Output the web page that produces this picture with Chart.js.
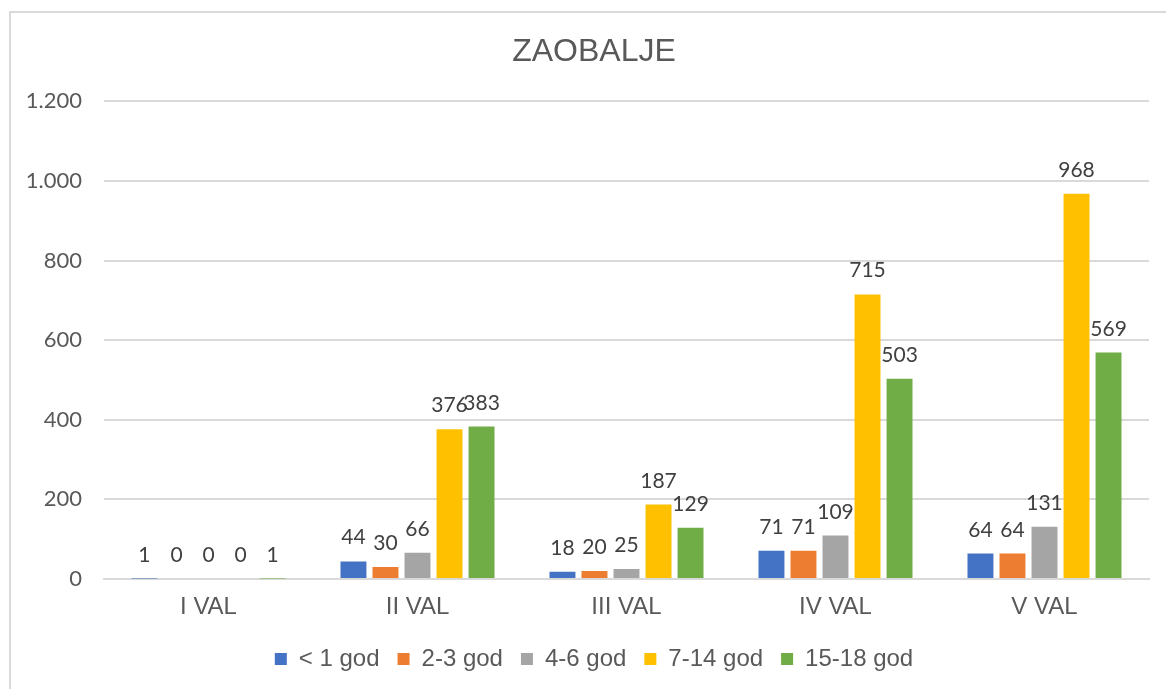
<!DOCTYPE html>
<html>
<head>
<meta charset="utf-8">
<script src="https://cdn.jsdelivr.net/npm/chart.js@4"></script>
<style>
  html, body { margin: 0; padding: 0; background: #fff; overflow: hidden; }
  #frame {
    position: absolute; left: 9px; top: 11px; width: 1200px; height: 700px;
    border: 2px solid #d9d9d9; box-sizing: border-box;
  }
  #wrap { position: absolute; left: 0; top: 0; width: 1188px; height: 689px; }
</style>
</head>
<body>
<div id="frame"></div>
<div id="wrap"><canvas id="myChart" width="1188" height="689"></canvas></div>
<script>
const categories = ["I VAL", "II VAL", "III VAL", "IV VAL", "V VAL"];
const seriesNames = ["< 1 god", "2-3 god", "4-6 god", "7-14 god", "15-18 god"];
const under1 = [1, 44, 18, 71, 64];
const age2to3 = [0, 30, 20, 71, 64];
const age4to6 = [0, 66, 25, 109, 131];
const age7to14 = [0, 376, 187, 715, 968];
const age15to18 = [1, 383, 129, 503, 569];
const colors = ["#4472C4", "#ED7D31", "#A5A5A5", "#FFC000", "#70AD47"];

const valueLabels = {
  id: "valueLabels",
  afterDatasetsDraw(chart) {
    const ctx = chart.ctx;
    ctx.save();
    ctx.font = "21px Lato, 'Open Sans', sans-serif";
    ctx.fillStyle = "#404040";
    ctx.textAlign = "center";
    ctx.textBaseline = "alphabetic";
    chart.data.datasets.forEach((ds, i) => {
      chart.getDatasetMeta(i).data.forEach((bar, j) => {
        ctx.fillText(String(ds.data[j]), bar.x, bar.y - 17);
      });
    });
    ctx.restore();
  },
};

const allSeries = [under1, age2to3, age4to6, age7to14, age15to18];

new Chart(document.getElementById("myChart"), {
  type: "bar",
  data: {
    labels: categories,
    datasets: allSeries.map((values, i) => ({
      label: seriesNames[i],
      data: values,
      backgroundColor: colors[i],
      borderWidth: 0,
      categoryPercentage: 0.766,
      barPercentage: 0.81,
    })),
  },
  options: {
    responsive: false,
    animation: false,
    layout: { padding: { left: 0, right: 0, top: 0, bottom: 8 } },
    plugins: {
      title: {
        display: true,
        text: "ZAOBALJE",
        color: "#595959",
        font: { family: "'Liberation Sans', Arial, sans-serif", size: 32, weight: "normal" },
        padding: { top: 33, bottom: 30 },
      },
      legend: {
        position: "bottom",
        labels: {
          color: "#595959",
          font: { family: "'Liberation Sans', Arial, sans-serif", size: 24 },
          boxWidth: 12,
          boxHeight: 12,
          padding: 18,
        },
      },
      tooltip: { enabled: false },
    },
    scales: {
      x: {
        grid: { display: false, drawTicks: false },
        border: { color: "#d9d9d9", width: 2 },
        ticks: {
          color: "#595959",
          padding: 14,
          font: { family: "'Liberation Sans', Arial, sans-serif", size: 24 },
        },
        afterFit: (scale) => { scale.height = 50; },
      },
      y: {
        min: 0,
        max: 1200,
        grid: { color: "#d9d9d9", lineWidth: 2, drawTicks: false },
        border: { display: false },
        ticks: {
          stepSize: 200,
          padding: 22,
          color: "#595959",
          font: { family: "Lato, 'Open Sans', sans-serif", size: 22 },
          callback: (v) => String(v).replace(/\B(?=(\d{3})+(?!\d))/g, "."),
        },
        afterFit: (scale) => { scale.width = 104; },
      },
      // empty right-hand strip so title and legend centre like the original
      spacer: {
        position: "right",
        grid: { display: false, drawTicks: false },
        border: { display: false },
        ticks: { display: false },
        afterFit: (scale) => { scale.width = 39; },
      },
    },
  },
  plugins: [valueLabels],
});
</script>
</body>
</html>
